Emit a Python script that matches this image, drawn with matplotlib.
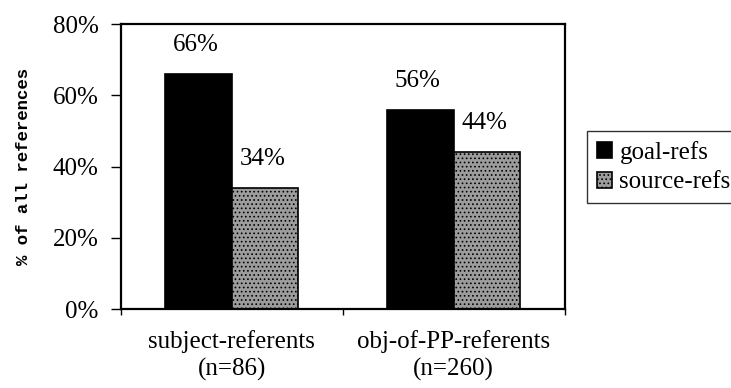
import matplotlib
matplotlib.use("Agg")
import matplotlib.pyplot as plt
import numpy as np

categories = ["subject-referents\n(n=86)", "obj-of-PP-referents\n(n=260)"]
series_names = ["goal-refs", "source-refs"]
goal_refs = [66, 56]
source_refs = [34, 44]
y_ticks = [0, 20, 40, 60, 80]

plt.rcParams["font.family"] = ["Liberation Serif", "DejaVu Serif"]
plt.rcParams["hatch.linewidth"] = 0.7

fig = plt.figure(figsize=(7.31, 3.88), dpi=100)
ax = fig.add_axes([0.1655, 0.2036, 0.607, 0.734])

x = np.arange(len(categories))
w = 0.3
bars_goal = ax.bar(x - w / 2, goal_refs, w, color="black", edgecolor="black",
                   linewidth=1.2, label=series_names[0])
plt.rcParams["hatch.color"] = "#505050"
bars_src = ax.bar(x + w / 2, source_refs, w, color="#9c9c9c", edgecolor="black",
                  linewidth=1.2, hatch="....", label=series_names[1])

for bars, vals in ((bars_goal, goal_refs), (bars_src, source_refs)):
    for b, v in zip(bars, vals):
        ax.annotate(f"{v}%", (b.get_x() + b.get_width() / 2, v),
                    xytext=(-2, 13), textcoords="offset points",
                    ha="center", va="bottom", fontsize=18)

ax.set_xlim(-0.5, len(categories) - 0.5)
ax.set_ylim(0, 80)
ax.set_yticks(y_ticks)
ax.set_yticklabels([f"{t}%" for t in y_ticks], fontsize=18)
ax.set_xticks(x)
ax.set_xticklabels(categories, fontsize=18, linespacing=1.3)
ax.tick_params(axis="x", length=0, pad=15)
ax.set_xticks([-0.5, 0.5, 1.5], minor=True)
ax.tick_params(axis="x", which="minor", length=4, width=1, direction="out")
ax.tick_params(axis="y", length=7, width=1, direction="out", pad=9)

for s in ax.spines.values():
    s.set_linewidth(1.6)
    s.set_color("black")

ax.set_ylabel("% of all references", family=["Liberation Mono", "DejaVu Sans Mono"],
              fontweight="bold", fontsize=12.5)
ax.yaxis.set_label_coords(31 / 731, 1 - 166 / 388, transform=fig.transFigure)

leg = ax.legend(loc="upper left", bbox_to_anchor=(587 / 731, 1 - 131 / 388),
                bbox_transform=fig.transFigure, fontsize=18, frameon=True,
                fancybox=False, edgecolor="black", handlelength=0.6,
                handleheight=0.6, handletextpad=0.3, labelspacing=0.3,
                borderpad=0.4, borderaxespad=0)
leg.get_frame().set_linewidth(1.0)

fig.savefig("out.png", dpi=100)
